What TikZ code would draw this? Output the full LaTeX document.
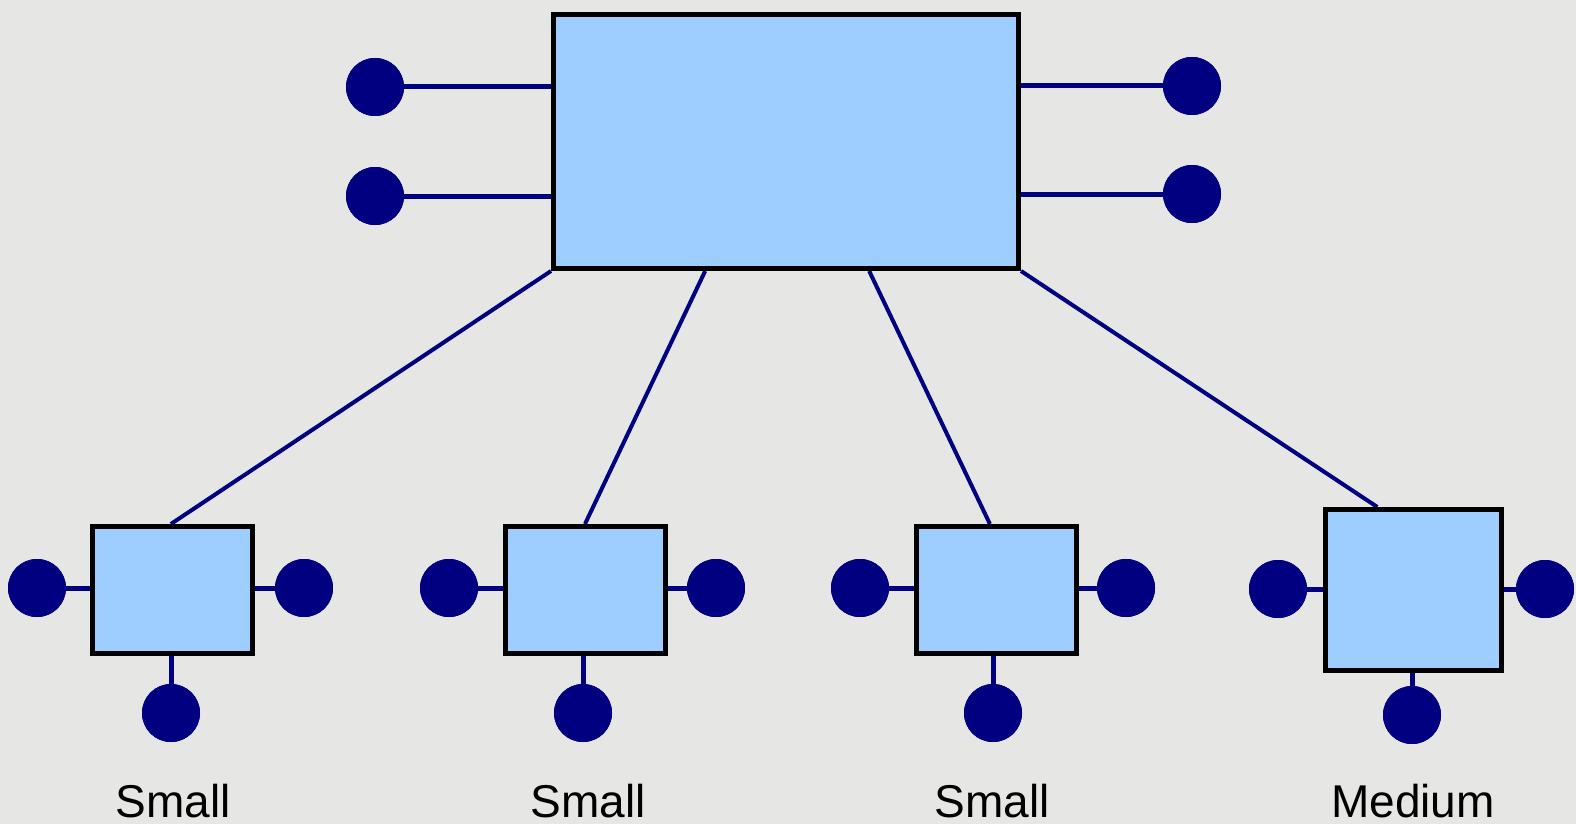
\documentclass[tikz,border=0pt]{standalone}
\usepackage{fontspec}
\setmainfont{Liberation Sans}
\usetikzlibrary{calc}
\definecolor{bg}{HTML}{E6E6E4}
\definecolor{boxblue}{HTML}{9DCEFF}
\definecolor{navy}{HTML}{000080}
\tikzset{
  bluebox/.style={draw=black, line width=5pt, fill=boxblue, inner sep=0pt, rectangle},
  dot/.style={circle, fill=navy, inner sep=0pt, minimum size=58pt},
  stub/.style={draw=navy, line width=5pt},
  link/.style={draw=navy, line width=4pt},
  lbl/.style={anchor=base, inner sep=0pt, font=\fontsize{46}{50}\selectfont}
}
\begin{document}
\begin{tikzpicture}[x=1pt,y=-1pt]
\useasboundingbox (0,0) rectangle (1576,824);
\fill[bg] (0,0) rectangle (1576,824);

% main box
\node[bluebox, minimum width=465pt, minimum height=254pt] (main) at (786,141.5) {};
% lower boxes
\node[bluebox, minimum width=160pt, minimum height=127pt] (b1) at (172.5,590) {};
\node[bluebox, minimum width=160pt, minimum height=127pt] (b2) at (585,590) {};
\node[bluebox, minimum width=160pt, minimum height=127pt] (b3) at (996.5,590) {};
\node[bluebox, minimum width=176pt, minimum height=161pt] (b4) at (1413.5,590) {};

% dots of main box
\node[dot] (ml1) at (375,87) {};
\node[dot] (ml2) at (375,196) {};
\node[dot] (mr1) at (1192,86) {};
\node[dot] (mr2) at (1192,194) {};
% dots of lower boxes
\node[dot] (b1l) at (37,588) {};
\node[dot] (b1r) at (304,588) {};
\node[dot] (b1b) at (171,713) {};
\node[dot] (b2l) at (449,588) {};
\node[dot] (b2r) at (716,588) {};
\node[dot] (b2b) at (583,713) {};
\node[dot] (b3l) at (860,588) {};
\node[dot] (b3r) at (1126,588) {};
\node[dot] (b3b) at (993,713) {};
\node[dot] (b4l) at (1278,589) {};
\node[dot] (b4r) at (1545,589) {};
\node[dot] (b4b) at (1412,715) {};

\begin{scope}[on background layer/.style={}]
\end{scope}

% stubs (drawn then boxes/dots redrawn on top via ordering below)
\path[stub] (ml1.center) -- (ml1 -| main.west);
\path[stub] (ml2.center) -- (ml2 -| main.west);
\path[stub] (mr1.center) -- (mr1 -| main.east);
\path[stub] (mr2.center) -- (mr2 -| main.east);
\path[stub] (b1l.center) -- (b1l -| b1.west);
\path[stub] (b1r.center) -- (b1r -| b1.east);
\path[stub] (b1b.center) -- (b1b |- b1.south);
\path[stub] (b2l.center) -- (b2l -| b2.west);
\path[stub] (b2r.center) -- (b2r -| b2.east);
\path[stub] (b2b.center) -- (b2b |- b2.south);
\path[stub] (b3l.center) -- (b3l -| b3.west);
\path[stub] (b3r.center) -- (b3r -| b3.east);
\path[stub] (b3b.center) -- (b3b |- b3.south);
\path[stub] (b4l.center) -- (b4l -| b4.west);
\path[stub] (b4r.center) -- (b4r -| b4.east);
\path[stub] (b4b.center) -- (b4b |- b4.south);

% links from main box to lower boxes
\path[link] (main.south west) -- ($(b1.north west)!0.49!(b1.north east)$);
\path[link] ($(main.south west)!0.328!(main.south east)$) -- ($(b2.north west)!0.5!(b2.north east)$);
\path[link] ($(main.south west)!0.677!(main.south east)$) -- ($(b3.north west)!0.46!(b3.north east)$);
\path[link] (main.south east) -- ($(b4.north west)!0.3!(b4.north east)$);

% redraw boxes and dots on top of the lines
\node[bluebox, minimum width=465pt, minimum height=254pt] at (main.center) {};
\node[bluebox, minimum width=160pt, minimum height=127pt] at (b1.center) {};
\node[bluebox, minimum width=160pt, minimum height=127pt] at (b2.center) {};
\node[bluebox, minimum width=160pt, minimum height=127pt] at (b3.center) {};
\node[bluebox, minimum width=176pt, minimum height=161pt] at (b4.center) {};
\foreach \d in {ml1,ml2,mr1,mr2,b1l,b1r,b1b,b2l,b2r,b2b,b3l,b3r,b3b,b4l,b4r,b4b}
  \node[dot] at (\d.center) {};

% labels
\node[lbl] (t1) at (173,817) {Small};
\node[lbl] (t2) at (588,817) {Small};
\node[lbl] (t3) at (992,817) {Small};
\node[lbl] (t4) at (1413,817) {Medium};
\end{tikzpicture}
\end{document}
